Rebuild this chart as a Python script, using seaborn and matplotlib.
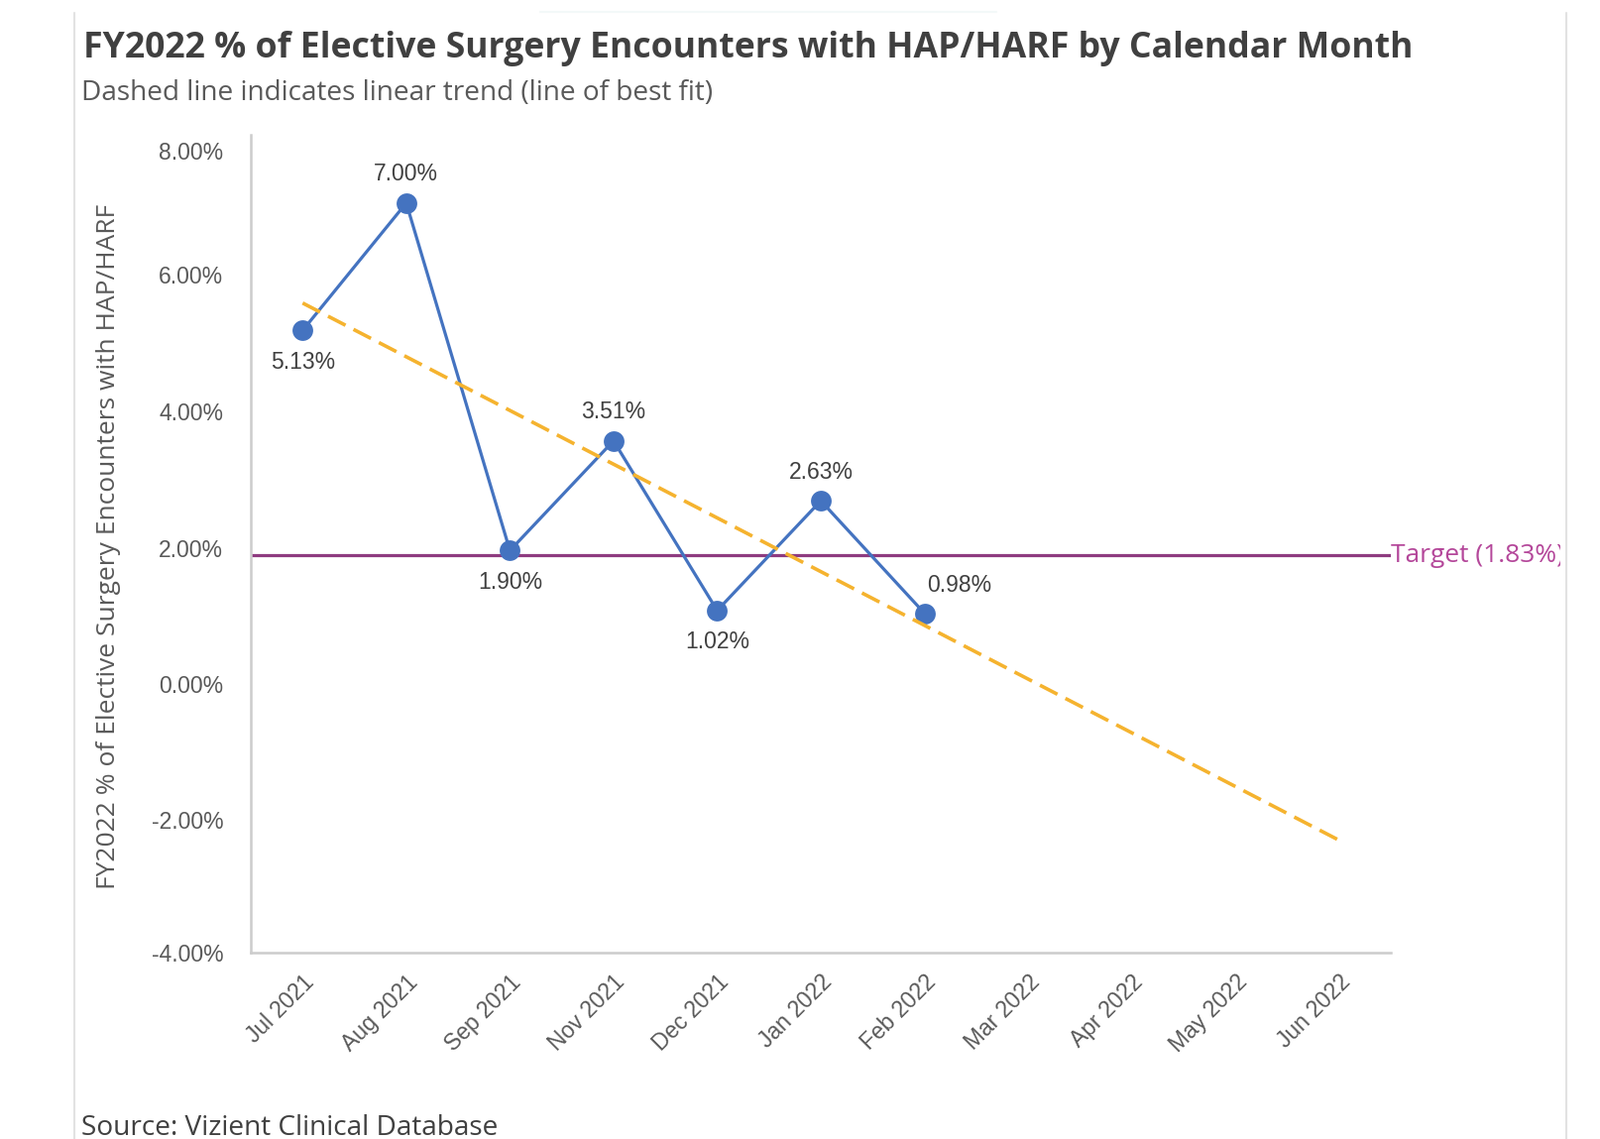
import numpy as np
import pandas as pd
import seaborn as sns
import matplotlib.pyplot as plt
from matplotlib.lines import Line2D
from matplotlib.transforms import Bbox, ScaledTranslation, blended_transform_factory

# Chart data
months = ["Jul 2021", "Aug 2021", "Sep 2021", "Nov 2021", "Dec 2021", "Jan 2022",
          "Feb 2022", "Mar 2022", "Apr 2022", "May 2022", "Jun 2022"]
rate = [5.13, 7.00, 1.90, 3.51, 1.02, 2.63, 0.98]   # % per month with data
target = 1.83
y_ticks = [-4, -2, 0, 2, 4, 6, 8]

# label offsets (points) for each data label
label_offsets = [(0, -23), (0, 21), (0, -23), (0, 21), (0, -23), (0, 21), (25, 20)]

df = pd.DataFrame({"pos": range(len(rate)), "rate": rate})
slope, icpt = np.polyfit(df["pos"], df["rate"], 1)
trend = pd.DataFrame({"pos": range(len(months))})
trend["rate"] = icpt + slope * trend["pos"]

blue = "#4473c0"
orange = "#f5b32f"
purple = "#8e3b80"
pink = "#b4479a"
grey_txt = "#595959"
dark_txt = "#404040"

sns.set_theme(style="white")
plt.rcParams['font.family'] = ['Liberation Sans', 'DejaVu Sans']

fig = plt.figure(figsize=(16.15, 11.49), dpi=100)
ax = fig.add_axes([253 / 1615, 1 - 961 / 1149, 1150 / 1615, 825 / 1149])

ax.axhline(target, color=purple, lw=2.3, zorder=1)
sns.lineplot(data=df, x="pos", y="rate", ax=ax, color=blue, lw=2.3, marker="o",
             markersize=15, markeredgewidth=0, zorder=2)
sns.lineplot(data=trend, x="pos", y="rate", ax=ax, color=orange, lw=2.6,
             linestyle=(0, (5.5, 2.5)), zorder=3)

for i, v in enumerate(rate):
    ax.annotate(f"{v:.2f}%", (i, v), xytext=label_offsets[i], textcoords="offset points",
                ha="center", va="center", fontsize=16.5, color=dark_txt)

ax.set_xlim(-0.5, len(months) - 0.5)
ax.set_ylim(-4, 8)
ax.set_yticks(y_ticks)
ax.set_yticklabels([f"{t:.2f}%" for t in y_ticks])
ax.set_xticks(range(len(months)))
ax.set_xticklabels(months, rotation=45, ha="right", rotation_mode="anchor")
ax.tick_params(axis="x", length=0, pad=13, labelsize=16.5, labelcolor=grey_txt)
ax.tick_params(axis="y", length=12, width=1.5, color="#cccccc", pad=8,
               labelsize=16.5, labelcolor=grey_txt)
ax.set_xlabel("")
ax.set_ylabel("")

# y labels sit a little below their ticks, the top one kept inside the axis
ylabels = ax.get_yticklabels()
for lab in ylabels:
    lab.set_transform(lab.get_transform() + ScaledTranslation(0, -4 / 100, fig.dpi_scale_trans))
ylabels[0].set_transform(ylabels[0].get_transform() + ScaledTranslation(0, 4 / 100, fig.dpi_scale_trans))
ylabels[-1].set_transform(ylabels[-1].get_transform() + ScaledTranslation(0, -12 / 100, fig.dpi_scale_trans))

sns.despine(ax=ax)
for s in ["left", "bottom"]:
    ax.spines[s].set_color("#cccccc")
    ax.spines[s].set_linewidth(1.8)

# texts around the chart
title = fig.text(84 / 1615, 1 - 58 / 1149,
                 "FY2022 % of Elective Surgery Encounters with HAP/HARF by Calendar Month",
                 family="Open Sans", weight="bold", fontsize=24, color=dark_txt, va="baseline")
sub = fig.text(82 / 1615, 1 - 101 / 1149, "Dashed line indicates linear trend (line of best fit)",
               family="Open Sans", fontsize=17, color=grey_txt, va="baseline")
ylab = fig.text(110 / 1615, 1 - 551 / 1149, "FY2022 % of Elective Surgery Encounters with HAP/HARF",
                family="Open Sans", fontsize=17, color=grey_txt, rotation=90,
                ha="center", va="center")
src = fig.text(82 / 1615, 1 - 1145 / 1149, "Source: Vizient Clinical Database",
               family="Open Sans", fontsize=17, color=dark_txt, va="baseline")
tgt = fig.text(1.0, target, f"Target ({target:.2f}%)", family="Open Sans", fontsize=19,
               color=pink, ha="left", va="center",
               transform=blended_transform_factory(ax.transAxes, ax.transData))
tgt.set_clip_box(Bbox([[0, 0], [1574, 1149]]))
tgt.set_clip_on(True)

# size texts to the widths seen in the reference
fig.canvas.draw()
r = fig.canvas.get_renderer()
for t, px, vert in [(title, 1345, False), (sub, 640, False), (ylab, 690, True), (src, 423, False)]:
    bb = t.get_window_extent(r)
    w = bb.height if vert else bb.width
    t.set_fontsize(t.get_fontsize() * px / w)

# panel borders
fig.add_artist(Line2D([75 / 1615] * 2, [0, 1 - 13 / 1149], transform=fig.transFigure,
                      color="#e2e2e2", lw=1.5))
fig.add_artist(Line2D([1580 / 1615] * 2, [0, 1 - 13 / 1149], transform=fig.transFigure,
                      color="#e2e2e2", lw=1.5))
fig.add_artist(Line2D([545 / 1615, 1005 / 1615], [1 - 12 / 1149] * 2, transform=fig.transFigure,
                      color="#f3f8f8", lw=1.5))

fig.savefig("out.png", dpi=100)
